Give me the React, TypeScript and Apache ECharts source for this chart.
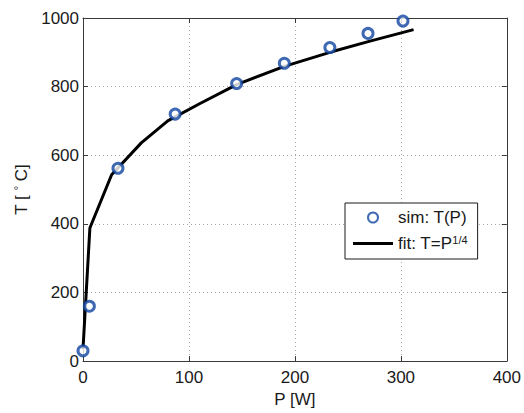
import React, { useEffect, useRef } from "react";
import * as echarts from "echarts";

const xTicks = [0, 100, 200, 300, 400];
const yTicks = [0, 200, 400, 600, 800, 1000];

const simP = [0, 6, 33, 87, 145, 190, 233, 269, 302];
const simT = [30, 160, 562, 720, 809, 868, 914, 955, 991];

const fitP = [0, 6.5, 27, 55, 80, 110, 145, 190, 233, 270, 312];
const fitT = [35, 388, 543, 636, 700, 750, 806, 859, 900, 932, 966];

const FONT = "'Liberation Sans', Arial, Helvetica, sans-serif";

export default function App() {
  const ref = useRef<HTMLDivElement>(null);
  useEffect(() => {
    if (!ref.current) return;
    const chart = echarts.init(ref.current, null, { renderer: "svg" });
    const axisColor = "#3a3a3a";
    const gridLine = { show: true, lineStyle: { color: "#a8a8a8", type: [1, 3] as any, width: 1 } };
    const baseX = {
      type: "value" as const,
      min: xTicks[0],
      max: xTicks[xTicks.length - 1],
      interval: xTicks[1] - xTicks[0],
      axisLine: { show: true, onZero: false, lineStyle: { color: axisColor, width: 1 } },
      axisTick: { show: true, inside: true, length: 5, lineStyle: { color: axisColor } },
    };
    const baseY = {
      type: "value" as const,
      min: yTicks[0],
      max: yTicks[yTicks.length - 1],
      interval: yTicks[1] - yTicks[0],
      axisLine: { show: true, onZero: false, lineStyle: { color: axisColor, width: 1 } },
      axisTick: { show: true, inside: true, length: 5, lineStyle: { color: axisColor } },
    };
    chart.setOption({
      animation: false,
      backgroundColor: "#ffffff",
      textStyle: { fontFamily: FONT },
      grid: { left: 83, right: 17, top: 18, bottom: 47, containLabel: false },
      xAxis: [
        {
          ...baseX,
          position: "bottom",
          name: "P [W]",
          nameLocation: "middle",
          nameGap: 27,
          nameTextStyle: { fontSize: 17, color: "#1a1a1a", fontFamily: FONT },
          axisLabel: { fontSize: 17, color: "#1a1a1a", margin: 8, fontFamily: FONT, formatter: (v: number) => String(v) },
          splitLine: gridLine,
        },
        {
          ...baseX,
          position: "top",
          axisLabel: { show: false },
          splitLine: { show: false },
        },
      ],
      yAxis: [
        {
          ...baseY,
          position: "left",
          name: "T [ {sup|°} C]",
          nameLocation: "middle",
          nameGap: 50,
          nameRotate: 90,
          nameTextStyle: {
            fontSize: 17,
            color: "#1a1a1a",
            fontFamily: FONT,
            rich: { sup: { fontSize: 11, padding: [0, 0, 8, 0], color: "#1a1a1a", fontFamily: FONT } },
          },
          axisLabel: { fontSize: 17, color: "#1a1a1a", margin: 4, fontFamily: FONT, formatter: (v: number) => String(v) },
          splitLine: gridLine,
        },
        {
          ...baseY,
          position: "right",
          axisLabel: { show: false },
          splitLine: { show: false },
        },
      ],
      legend: {
        orient: "vertical",
        left: 345,
        top: 203,
        padding: [6, 10, 7, 8],
        itemGap: 8,
        itemWidth: 40,
        itemHeight: 10,
        backgroundColor: "#ffffff",
        borderColor: "#1a1a1a",
        borderWidth: 1,
        borderRadius: 0,
        data: [
          { name: "sim: T(P)" },
          { name: "fit: T=P{sup|1/4}", icon: "path://M0,0H40V3H0Z" },
        ],
        textStyle: {
          fontSize: 17,
          color: "#1a1a1a",
          fontFamily: FONT,
          rich: { sup: { fontSize: 11, padding: [0, 0, 8, 0], color: "#1a1a1a", fontFamily: FONT } },
        },
      },
      series: [
        {
          name: "fit: T=P{sup|1/4}",
          type: "line",
          xAxisIndex: 0,
          yAxisIndex: 0,
          data: fitP.map((p, i) => [p, fitT[i]]),
          symbol: "none",
          lineStyle: { color: "#000000", width: 3 },
          itemStyle: { color: "#000000" },
          z: 2,
        },
        {
          name: "sim: T(P)",
          type: "scatter",
          xAxisIndex: 0,
          yAxisIndex: 0,
          data: simP.map((p, i) => [p, simT[i]]),
          symbol: "circle",
          symbolSize: 10,
          itemStyle: { color: "#ffffff", borderColor: "#0f44a0", borderWidth: 3 },
          z: 3,
        },
      ],
    });
    return () => chart.dispose();
  }, []);
  return <div ref={ref} style={{ width: 524, height: 413, position: "fixed", left: 0, top: 0 }} />;
}
